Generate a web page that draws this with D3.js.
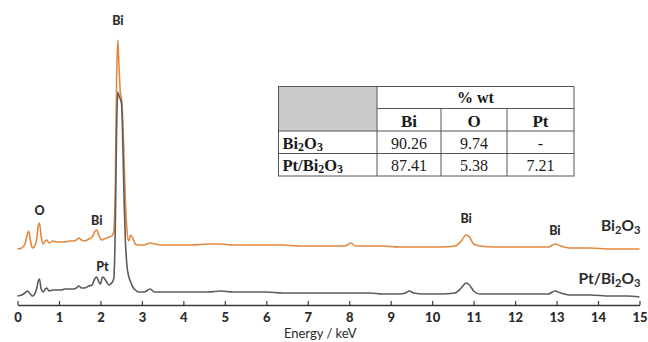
<!DOCTYPE html>
<html>
<head>
<meta charset="utf-8">
<script src="https://cdn.jsdelivr.net/npm/d3@7"></script>
<style>
  body { margin: 0; background: #fff; }
  svg { display: block; }
</style>
</head>
<body>
<div id="chart"></div>
<script>
// EDS spectra, arbitrary intensity units (stacked as displayed)
const energy = [0, 0.1, 0.18, 0.24, 0.27, 0.31, 0.36, 0.40, 0.46, 0.50, 0.53, 0.57, 0.62, 0.67, 0.71, 0.76, 0.85, 0.95,
  1.05, 1.15, 1.25, 1.35, 1.42, 1.48, 1.54, 1.62, 1.72, 1.80, 1.86, 1.91, 1.96, 2.00, 2.05, 2.09, 2.15, 2.21, 2.27, 2.32,
  2.36, 2.39, 2.42, 2.45, 2.48, 2.51, 2.54, 2.57, 2.60, 2.64, 2.68, 2.73, 2.78, 2.84, 2.92, 3.05, 3.20, 3.30, 3.5, 3.8,
  4.2, 4.6, 4.9, 5.2, 5.6, 6.0, 6.4, 6.8, 7.2, 7.6, 7.9, 8.04, 8.15, 8.5, 8.8, 9.2, 9.35, 9.45, 9.55, 9.8, 10.2, 10.55,
  10.7, 10.82, 10.9, 11.0, 11.15, 11.5, 12.0, 12.5, 12.8, 12.96, 13.1, 13.3, 13.8, 14.3, 14.7, 15.0];

const bi2o3 = [55, 56, 60, 70, 73, 64, 56, 57, 64, 78, 81, 68, 60, 63, 64, 61, 63, 62,
  62, 62, 63, 63, 64, 66, 64, 63, 65, 67, 72, 74, 69, 65, 64, 65, 66, 67, 68, 72,
  120, 225, 264, 235, 212, 205, 182, 145, 105, 74, 63, 69, 66, 60, 59, 59, 61, 60, 59, 59,
  59, 60, 60, 59, 59, 59, 59, 58, 58, 58, 58, 61, 58, 58, 58, 57, 57, 57, 57, 57, 57, 58,
  63, 69, 67, 60, 58, 57, 57, 57, 57, 60, 58, 56, 56, 55, 55, 55];

const ptBi2o3 = [8, 9, 11, 13, 12, 10, 8, 9, 15, 23, 25, 15, 12, 15, 16, 13, 14, 14,
  14, 15, 15, 15, 16, 18, 16, 16, 18, 19, 25, 27, 22, 20, 27, 26, 22, 19, 21, 25,
  80, 175, 212, 208, 205, 200, 160, 105, 65, 38, 28, 22, 17, 14, 12, 12, 15, 12, 12, 12,
  12, 12, 13, 12, 12, 12, 11, 11, 11, 11, 11, 11, 11, 11, 10, 10, 11, 13, 11, 10, 10, 11,
  16, 21, 19, 13, 10, 10, 10, 10, 10, 13, 11, 9, 9, 8, 8, 7];

const xTicks = d3.range(0, 16);

// peak annotations
const peakText = ["Bi", "O", "Bi", "Pt", "Bi", "Bi"];
const peakEnergy = [2.42, 0.53, 1.91, 2.05, 10.82, 12.96];
const peakLabelAt = [279, 89, 79, 33, 81, 69];

// composition table (% wt)
const tableCols = ["Bi", "O", "Pt"];
const tableRows = ["Bi2O3", "Pt/Bi2O3"];
const tableVals = [["90.26", "9.74", "-"], ["87.41", "5.38", "7.21"]];

const W = 648, H = 342;
const svg = d3.select("#chart").append("svg")
    .attr("width", W)
    .attr("height", H);

const x = d3.scaleLinear().domain([0, 15]).range([17.5, 639.5]);
const y = d3.scaleLinear().domain([0, 280]).range([304, 24]);
const axisY = 305;

// axis
const xAxis = svg.append("g")
    .attr("transform", "translate(0," + axisY + ")")
    .call(d3.axisBottom(x).tickValues(xTicks).tickSizeInner(-4).tickSizeOuter(0).tickPadding(8));
xAxis.select(".domain").attr("stroke", "#3a3a3a").attr("stroke-width", 1.5);
xAxis.selectAll(".tick line").attr("stroke", "#3a3a3a").attr("stroke-width", 1.2);
xAxis.selectAll(".tick text")
    .attr("font-family", "Lato, 'Open Sans', sans-serif")
    .attr("font-weight", "900")
    .attr("font-size", 13)
    .attr("fill", "#2b2b2b");

svg.append("text")
    .attr("x", x(7.3))
    .attr("y", 338)
    .attr("text-anchor", "middle")
    .attr("font-family", "Lato, 'Open Sans', sans-serif")
    .attr("font-size", 13)
    .attr("fill", "#2b2b2b")
    .text("Energy / keV");

// spectra
const line = d3.line()
    .x(function(d, i) { return x(energy[i]); })
    .y(function(d) { return y(d); })
    .curve(d3.curveMonotoneX);

svg.append("path")
    .datum(bi2o3)
    .attr("fill", "none")
    .attr("stroke", "#E3883F")
    .attr("stroke-width", 1.6)
    .attr("d", line);

svg.append("path")
    .datum(ptBi2o3)
    .attr("fill", "none")
    .attr("stroke", "#5c5c5c")
    .attr("stroke-width", 1.6)
    .attr("d", line);

// peak labels
svg.selectAll(".peak")
    .data(peakText)
  .enter().append("text")
    .attr("class", "peak")
    .attr("x", function(d, i) { return x(peakEnergy[i]); })
    .attr("y", function(d, i) { return y(peakLabelAt[i]); })
    .attr("text-anchor", "middle")
    .attr("font-family", "Lato, 'Open Sans', sans-serif")
    .attr("font-weight", "900")
    .attr("font-size", 12.5)
    .attr("fill", "#2b2b2b")
    .text(function(d) { return d; });

// series labels with subscripts
function formula(sel, parts, size) {
  parts.forEach(function(p) {
    sel.append("tspan")
      .attr("font-size", p.sub ? size * 0.72 : size)
      .attr("dy", p.dy || 0)
      .text(p.t);
  });
}
const seriesParts = [
  [{t: "Bi"}, {t: "2", sub: 1, dy: 3}, {t: "O", dy: -3}, {t: "3", sub: 1, dy: 3}],
  [{t: "Pt/Bi"}, {t: "2", sub: 1, dy: 3}, {t: "O", dy: -3}, {t: "3", sub: 1, dy: 3}]
];
const seriesLabelAt = [73, 20];
seriesParts.forEach(function(parts, i) {
  const t = svg.append("text")
      .attr("x", x(15) + 1)
      .attr("y", y(seriesLabelAt[i]))
      .attr("text-anchor", "end")
      .attr("font-family", "Lato, 'Open Sans', sans-serif")
      .attr("font-weight", "bold")
      .attr("fill", "#2b2b2b");
  formula(t, parts, 15.5);
});

// table
const tb = svg.append("g").attr("font-family", "'Liberation Serif', 'Times New Roman', serif").attr("fill", "#1a1a1a");
const colX = [278.5, 377, 441, 507, 574];
const rowY = [86.5, 108.5, 131, 153.5, 176];
tb.append("rect")
    .attr("x", colX[0]).attr("y", rowY[0])
    .attr("width", colX[1] - colX[0]).attr("height", rowY[2] - rowY[0])
    .attr("fill", "#cbcbcb");
tb.append("rect")
    .attr("x", colX[0]).attr("y", rowY[0])
    .attr("width", colX[4] - colX[0]).attr("height", rowY[4] - rowY[0])
    .attr("fill", "none").attr("stroke", "#555").attr("stroke-width", 1);
[[colX[1], rowY[1], colX[4], rowY[1]], [colX[0], rowY[2], colX[4], rowY[2]], [colX[0], rowY[3], colX[4], rowY[3]],
 [colX[1], rowY[0], colX[1], rowY[4]], [colX[2], rowY[1], colX[2], rowY[4]], [colX[3], rowY[1], colX[3], rowY[4]]]
  .forEach(function(l) {
    tb.append("line").attr("x1", l[0]).attr("y1", l[1]).attr("x2", l[2]).attr("y2", l[3])
      .attr("stroke", "#555").attr("stroke-width", 1);
  });

tb.append("text")
    .attr("x", (colX[1] + colX[4]) / 2).attr("y", 103)
    .attr("text-anchor", "middle").attr("font-size", 16).attr("font-weight", "bold")
    .text("% wt");
tableCols.forEach(function(c, j) {
  tb.append("text")
    .attr("x", (colX[j + 1] + colX[j + 2]) / 2).attr("y", 127)
    .attr("text-anchor", "middle").attr("font-size", 17).attr("font-weight", "bold")
    .text(c);
});
const rowBase = [149, 171];
const rowParts = [
  [{t: "Bi"}, {t: "2", sub: 1, dy: 1.5}, {t: "O", dy: -1.5}, {t: "3", sub: 1, dy: 1.5}],
  [{t: "Pt/Bi"}, {t: "2", sub: 1, dy: 1.5}, {t: "O", dy: -1.5}, {t: "3", sub: 1, dy: 1.5}]
];
tableRows.forEach(function(r, i) {
  const t = tb.append("text")
      .attr("x", 282.5).attr("y", rowBase[i])
      .attr("font-weight", "bold");
  formula(t, rowParts[i], 16.5);
  tableVals[i].forEach(function(v, j) {
    tb.append("text")
      .attr("x", (colX[j + 1] + colX[j + 2]) / 2).attr("y", rowBase[i])
      .attr("text-anchor", "middle").attr("font-size", 16)
      .text(v);
  });
});
</script>
</body>
</html>
